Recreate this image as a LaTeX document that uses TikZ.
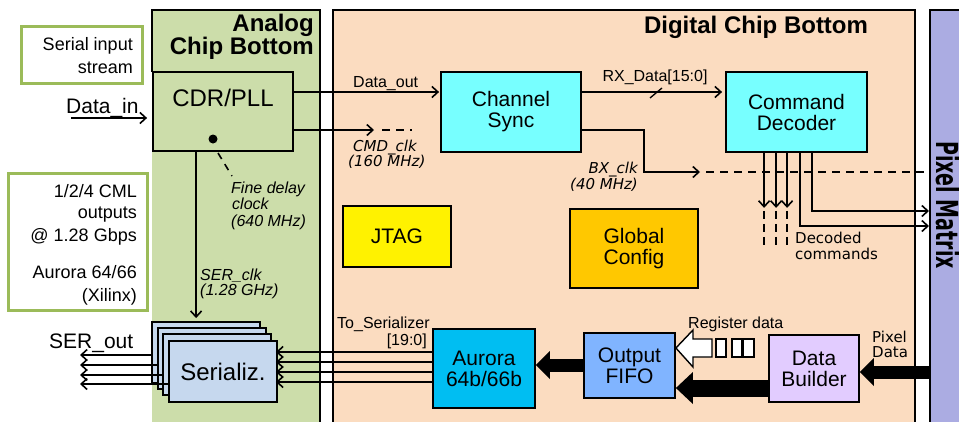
\documentclass[tikz,border=0pt]{standalone}
\usepackage{fontspec}
\setmainfont{Liberation Sans}
\newfontfamily\dvs{DejaVu Sans}
\usetikzlibrary{arrows.meta,calc}
\definecolor{anag}{HTML}{CCDDAA}
\definecolor{dig}{HTML}{FBDCC0}
\definecolor{pmc}{HTML}{ABACE2}
\definecolor{gbord}{HTML}{9BBB59}
\definecolor{cyn}{HTML}{77FFFF}
\definecolor{aur}{HTML}{00BEF2}
\definecolor{fifoc}{HTML}{80B4FF}
\definecolor{dbc}{HTML}{E2CCFF}
\definecolor{serc}{HTML}{C6D8EE}
\definecolor{gcc}{HTML}{FFC800}
\tikzset{
  box/.style={draw, line width=1.8pt, inner sep=0pt, align=center, font=\fontsize{21}{21}\selectfont},
  gbox/.style={draw=gbord, fill=white, line width=3pt, inner sep=0pt},
  conn/.style={line width=1.6pt},
  arr/.style={conn, -{Straight Barb[length=6pt,width=11pt,line width=1.6pt]}},
  dsh/.style={conn, dash pattern=on 8pt off 6pt},
  lab/.style={inner sep=0pt, font=\fontsize{16}{16}\selectfont},
  labb/.style={inner sep=0pt, font=\fontsize{18}{18}\selectfont},
  labi/.style={inner sep=0pt, font=\itshape\fontsize{16}{16}\selectfont},
  labd/.style={inner sep=0pt, font=\dvs\fontsize{15}{15}\selectfont},
  labdi/.style={inner sep=0pt, font=\dvs\itshape\fontsize{15}{15}\selectfont},
  title/.style={inner sep=0pt, font=\bfseries\fontsize{24}{24}\selectfont},
}
\begin{document}
\begin{tikzpicture}[x=1pt,y=-1pt]
\useasboundingbox (0,0) rectangle (959,421);
% regions
\fill[anag] (152,10) rectangle (320,430);
\draw[line width=1.8pt] (152,72) -- (152,10) -- (320,10) -- (320,430);
\fill[dig] (333,10) rectangle (915,430);
\draw[line width=1.8pt] (333,430) -- (333,10) -- (915,10) -- (915,430);
\node[fill=pmc, minimum width=40pt, minimum height=430pt, anchor=north west, inner sep=0pt] (pm) at (930,10) {};
\draw[line width=1.8pt] (930,440) -- (930,10) -- (970,10);
\node[rotate=-90, yscale=1.6, anchor=base west, inner sep=0pt, font=\dvs\bfseries\fontsize{19}{19}\selectfont] at (936,141) {Pixel Matrix};
\node[title, anchor=base east] at (314,31) {Analog};
\node[title, anchor=base east] at (314,54) {Chip Bottom};
\node[title, anchor=base] at (756,33) {Digital Chip Bottom};

% left info boxes
\node[gbox, minimum width=121pt, minimum height=57pt] (sis) at (81.5,54.5) {};
\node[labb, anchor=base east] at (133,50) {Serial input};
\node[labb, anchor=base east] at (133,73) {stream};
\node[gbox, minimum width=139pt, minimum height=137pt] (cml) at (77.5,241.5) {};
\node[labb, anchor=base east] at (137,197) {1/2/4 CML};
\node[labb, anchor=base east] at (137,218) {outputs};
\node[labb, anchor=base east] at (137,241) {@ 1.28 Gbps};
\node[labb, anchor=base east] at (137,278) {Aurora 64/66};
\node[labb, anchor=base east] at (137,301) {(Xilinx)};

% blocks
\node[box, fill=anag, minimum width=140pt, minimum height=79pt, font=\fontsize{24}{24}\selectfont] (cdr) at (223,111.5) {CDR/PLL\\[3pt]};
\node[box, fill=cyn, minimum width=140pt, minimum height=80pt] (chs) at (511,112) {Channel\\Sync};
\node[box, fill=cyn, minimum width=141pt, minimum height=80pt] (cmd) at (796.5,112) {Command\\Decoder};
\node[box, fill=yellow, minimum width=108pt, minimum height=61pt] (jtag) at (397,236.5) {JTAG};
\node[box, fill=gcc, minimum width=128pt, minimum height=79pt] (gc) at (634,248.5) {Global\\Config};
\node[box, fill=aur, minimum width=102pt, minimum height=79pt] (aur) at (484,368.5) {Aurora\\64b/66b};
\node[box, fill=fifoc, minimum width=91pt, minimum height=65pt] (fifo) at (629.5,365.5) {Output\\FIFO};
\node[box, fill=dbc, minimum width=90pt, minimum height=67pt] (db) at (814,368.5) {Data\\Builder};
\node[box, fill=serc, minimum width=108pt, minimum height=61pt] (ser1) at (206,352.5) {};
\node[box, fill=serc, minimum width=108pt, minimum height=61pt] (ser2) at (212,358.5) {};
\node[box, fill=serc, minimum width=108pt, minimum height=61pt] (ser3) at (217,364.5) {};
\node[box, fill=serc, minimum width=108pt, minimum height=61pt, font=\fontsize{24}{24}\selectfont] (ser4) at (223,371.5) {Serializ.};

% helper coordinates
\coordinate (din) at (71,118);
\coordinate (y92) at (0,92);
\coordinate (y130) at (0,130);
\coordinate (cmdtip) at (374,130);
\coordinate (cmdend) at (412,130);
\coordinate (bxa) at (644,130);
\coordinate (bxb) at (644,172);
\coordinate (bxtip) at (700,172);
\coordinate (y172) at (0,172);
\coordinate (y211) at (0,211);
\coordinate (y226) at (0,226);
\coordinate (y348) at (0,348);
\coordinate (y365) at (0,365);
\coordinate (y388) at (0,388);
\coordinate (y372) at (0,372);

% top connectors
\draw[arr, shorten >=5pt] (din) -- (din -| cdr.west);
\node[inner sep=0pt, anchor=base west, font=\fontsize{21}{21}\selectfont] at (66,113) {Data\_in};
\draw[arr, shorten >=1pt] (cdr.east |- y92) -- (chs.west |- y92);
\node[lab, anchor=base west] at (353,87) {Data\_out};
\draw[arr] (cdr.east |- y130) -- (cmdtip);
\draw[dsh] ([xshift=8pt]cmdtip) -- (cmdend);
\node[labdi, anchor=base west] at (353,151) {CMD\_clk};
\node[labdi, anchor=base west] at (348,166) {(160 MHz)};
\draw[arr, shorten >=3pt] (chs.east |- y92) -- (cmd.west |- y92);
\draw[conn, line width=1.3pt] (650,98) -- (662,88);
\node[lab, anchor=base] at (655,81) {RX\_Data[15:0]};
\draw[arr] (chs.east |- y130) -- (bxa) -- (bxb) -- (bxtip);
\draw[dsh] ([xshift=6pt]bxtip) -- (pm.west |- y172);
\node[labdi, anchor=base east] at (638,173) {BX\_clk};
\node[labdi, anchor=base east] at (638,189) {(40 MHz)};

% decoded commands
\foreach \dx in {39,51,62}{
  \draw[arr] ([xshift=\dx pt]cmd.south west) -- ++(0,55);
  \draw[conn, dash pattern=on 8pt off 5pt] ([xshift=\dx pt]cmd.south west) ++(0,58) -- ++(0,38);
}
\draw[arr, shorten >=1pt] ([xshift=75pt]cmd.south west) |- (pm.west |- y226);
\draw[arr, shorten >=1pt] ([xshift=87pt]cmd.south west) |- (pm.west |- y211);
\node[labd, anchor=base west] at (795,243) {Decoded};
\node[labd, anchor=base west] at (795,259) {commands};

% fine delay clock
\fill (213,139) circle (4.5);
\draw[conn, dash pattern=on 7pt off 6pt] (218,153) -- (232,176);
\node[labi, anchor=base west] at (231,193) {Fine delay};
\node[labi, anchor=base west] at (232,209) {clock};
\node[labi, anchor=base west] at (231,226) {(640 MHz)};

% SER clk
\draw[arr, shorten >=3pt] ([xshift=44pt]cdr.south west) -- ([xshift=45pt]ser1.north west);
\node[labi, anchor=base west] at (200,280) {SER\_clk};
\node[labi, anchor=base west] at (200,295) {(1.28 GHz)};

% serializer outputs
\coordinate (o1) at (80,355);
\coordinate (o2) at (80,365);
\coordinate (o3) at (80,375);
\coordinate (o4) at (80,384);
\draw[arr] (ser1.west |- o1) -- (o1);
\draw[arr] (ser2.west |- o2) -- (o2);
\draw[arr] (ser3.west |- o3) -- (o3);
\draw[arr] (ser4.west |- o4) -- (o4);
\node[inner sep=0pt, anchor=base west, font=\fontsize{21}{21}\selectfont] at (49,348) {SER\_out};

% aurora to serializer
\foreach \yy in {352,362,372,382}{
  \coordinate (t) at (0,\yy);
  \draw[arr, shorten >=-2pt] (aur.west |- t) -- (ser4.east |- t);
}
\node[lab, anchor=base west] at (337,328) {To\_Serializer};
\node[lab, anchor=base east] at (427,345) {[19:0]};

% fat arrows
\draw[line width=13pt, -{Triangle[length=14pt,width=28pt,line width=0pt]}] (fifo.west |- y365) -- (aur.east |- y365);
\draw[line width=17pt, -{Triangle[length=17pt,width=32pt,line width=0pt]}] (db.west |- y388) -- (fifo.east |- y388);
\draw[line width=13pt, -{Triangle[length=14pt,width=28pt,line width=0pt]}] (pm.west |- y372) -- (db.east |- y372);
% register data hollow arrow
\draw[fill=white, line width=1.4pt, line join=miter] (fifo.east |- y348) -- (693,330) -- (693,339) -- (712,339) -- (712,357) -- (693,357) -- (693,367) -- cycle;
\draw[fill=white, line width=1.4pt] (716,339) rectangle (726,357);
\draw[fill=white, line width=1.4pt] (732,339) rectangle (742,357);
\draw[fill=white, line width=1.4pt] (743,339) rectangle (754,357);
\node[lab, anchor=base west] at (688,328) {Register data};
\node[labd, anchor=base west] at (872,342) {Pixel};
\node[labd, anchor=base west] at (872,357) {Data};
\end{tikzpicture}
\end{document}
